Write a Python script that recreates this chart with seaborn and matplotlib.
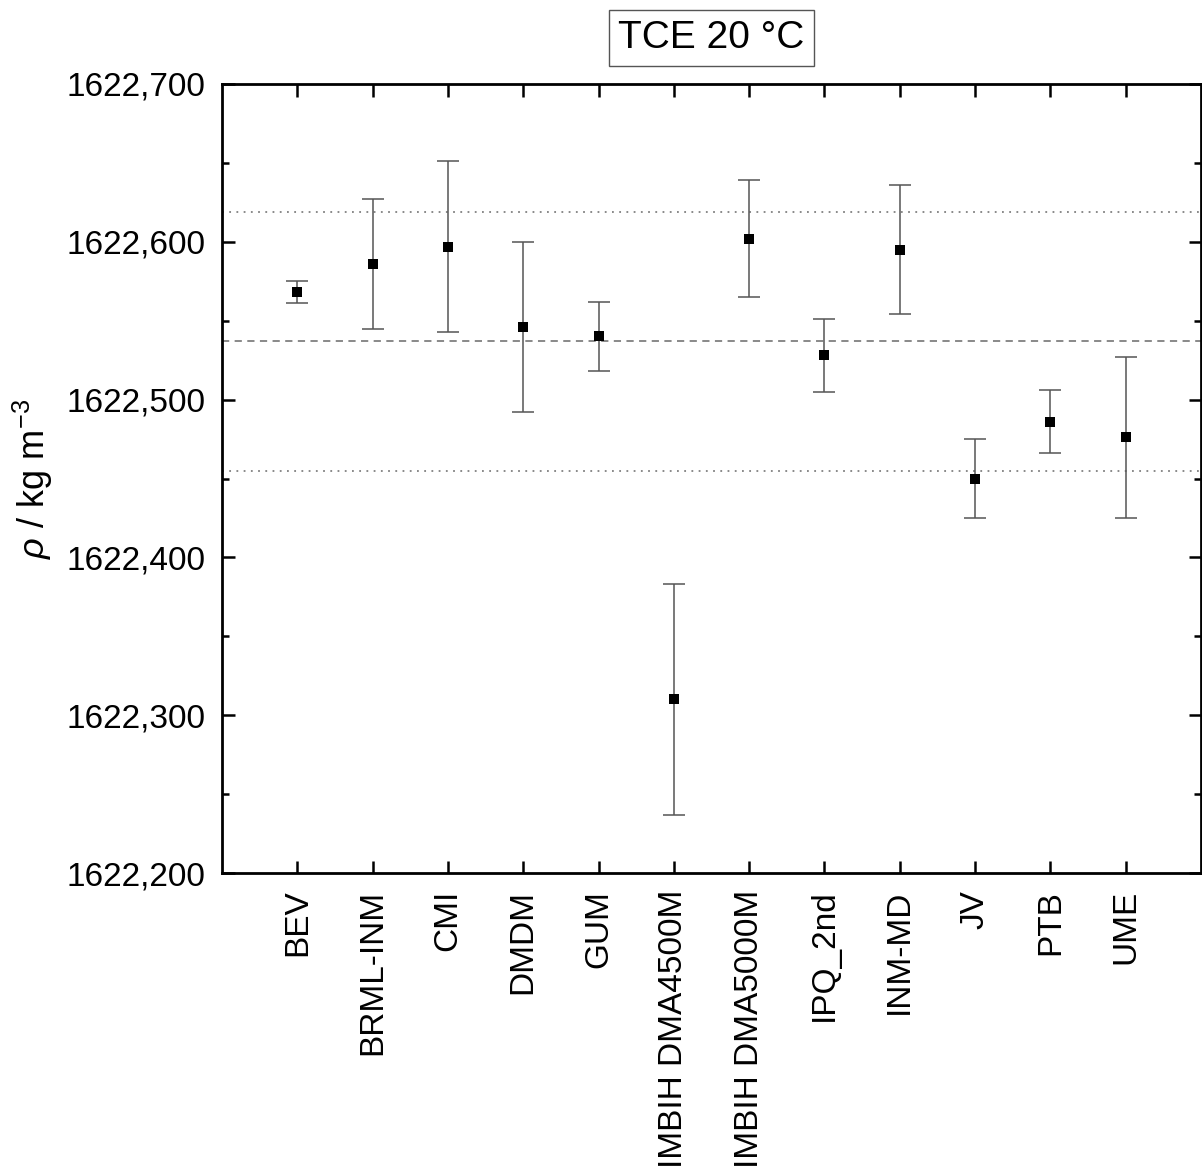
"""Density comparison plot, TCE at 20 C, values with expanded uncertainties."""

import matplotlib

matplotlib.use("Agg")
import matplotlib.pyplot as plt
import numpy as np
import pandas as pd
import seaborn as sns
from matplotlib.ticker import FixedLocator, FuncFormatter, MultipleLocator

# lab names and results
labs = ["BEV", "BRML-INM", "CMI", "DMDM", "GUM", "IMBIH DMA4500M",
        "IMBIH DMA5000M", "IPQ_2nd", "INM-MD", "JV", "PTB", "UME"]
rho = [1622.568, 1622.586, 1622.597, 1622.546, 1622.540, 1622.310,
       1622.602, 1622.528, 1622.595, 1622.450, 1622.486, 1622.476]
unc = [0.007, 0.041, 0.054, 0.054, 0.022, 0.073,
       0.037, 0.023, 0.041, 0.025, 0.020, 0.051]

# reference value and its band
ref_value = 1622.537
band_lo = 1622.455
band_hi = 1622.619

y_ticks = [1622.2, 1622.3, 1622.4, 1622.5, 1622.6, 1622.7]

sns.set_theme(style="ticks")
plt.rcParams["font.family"] = ["Liberation Sans", "DejaVu Sans"]
plt.rcParams["mathtext.fontset"] = "custom"
plt.rcParams["mathtext.rm"] = "Liberation Sans"
plt.rcParams["mathtext.it"] = "Liberation Sans:italic"
for key in ("text.color", "axes.labelcolor", "xtick.color", "ytick.color",
            "axes.edgecolor"):
    plt.rcParams[key] = "black"

df = pd.DataFrame({"lab": labs, "rho": rho, "unc": unc})
df["pos"] = np.arange(len(df))

W, H = 1202, 1169
fig = plt.figure(figsize=(W / 100, H / 100), dpi=100)
ax = fig.add_axes([222 / W, (H - 873) / H, (1201 - 222) / W, (873 - 84) / H])

# reference lines
ax.axhline(band_hi, color="#808080", lw=1.3, ls=(0, (1, 3)), zorder=1)
ax.axhline(ref_value, color="#808080", lw=1.3, ls=(0, (4, 3)), zorder=1)
ax.axhline(band_lo, color="#808080", lw=1.3, ls=(0, (1, 3)), zorder=1)

ax.errorbar(df["pos"], df["rho"], yerr=df["unc"], fmt="none",
            ecolor="#555555", elinewidth=1.1, capsize=8, capthick=1.1, zorder=2)
sns.scatterplot(data=df, x="pos", y="rho", marker="s", s=50, color="black",
                edgecolor="black", linewidth=0, ax=ax, zorder=3, legend=False)

ax.set_xlim(-1, 12)
ax.set_ylim(1622.2, 1622.7)
ax.xaxis.set_major_locator(FixedLocator(df["pos"].tolist()))
ax.set_xticklabels(labs, rotation=90)
ax.yaxis.set_major_locator(FixedLocator(y_ticks))
ax.yaxis.set_minor_locator(MultipleLocator(0.05))
ax.yaxis.set_major_formatter(FuncFormatter(lambda v, p: f"{v:.3f}".replace(".", ",")))

ax.tick_params(axis="both", which="major", direction="in", length=9, width=1.8,
               labelsize=24, pad=12, color="black", labelcolor="black")
ax.tick_params(axis="y", which="minor", direction="in", length=5, width=1.8, color="black")
ax.tick_params(top=True, right=True, which="both")
ax.tick_params(axis="x", which="minor", bottom=False, top=False)
for sp in ax.spines.values():
    sp.set_linewidth(2.0)
    sp.set_color("black")
    sp.set_visible(True)

ax.set_xlabel("")
ax.set_ylabel(r"$\it{\rho}$ / kg m$^{-3}$", fontsize=26, labelpad=8)
ax.set_title("TCE 20 °C", fontsize=28, pad=26, color="black",
             bbox=dict(boxstyle="square,pad=0.25", facecolor="white",
                       edgecolor="#555555", linewidth=1.0))

fig.savefig("out.png", dpi=100)
plt.close(fig)
